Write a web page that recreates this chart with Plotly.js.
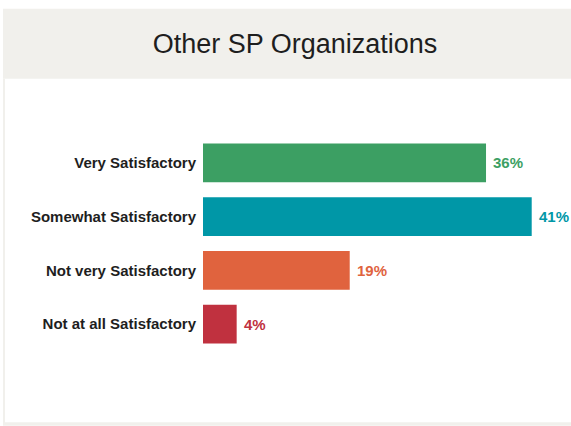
<!DOCTYPE html>
<html>
<head>
<meta charset="utf-8">
<script src="https://cdn.plot.ly/plotly-3.0.1.min.js"></script>
<style>html,body{margin:0;padding:0;background:#fff;}#chart{width:571px;height:426px;}</style>
</head>
<body>
<div id="chart"></div>
<script>
const categories = ["Very Satisfactory", "Somewhat Satisfactory", "Not very Satisfactory", "Not at all Satisfactory"];
const values = [35.3, 41.0, 18.3, 4.2];
const labels = ["36%", "41%", "19%", "4%"];
const colors = ["#3c9f63", "#0097a7", "#e0633e", "#c0313f"];
const titleText = "Other SP Organizations";

const W = 571, H = 426;
const L = 203, R = 0, T = 135.5, B = 75;
const pw = W - L - R, ph = H - T - B;
const px = p => (p - L) / pw;
const py = p => (H - B - p) / ph;

const trace = {
  type: "bar",
  orientation: "h",
  y: categories,
  x: values,
  marker: {color: colors},
  width: 0.72,
  hoverinfo: "none"
};

const annotations = categories.map((c, i) => ({
  x: values[i], y: c, xref: "x", yref: "y",
  text: labels[i], showarrow: false,
  xanchor: "left", yanchor: "middle", xshift: 5,
  font: {family: "Liberation Sans, Arial, sans-serif", size: 15, color: colors[i], weight: "bold"}
}));

const layout = {
  width: W, height: H,
  margin: {l: L, r: R, t: T, b: B, pad: 0},
  paper_bgcolor: "rgba(0,0,0,0)",
  plot_bgcolor: "rgba(0,0,0,0)",
  showlegend: false,
  title: {
    text: titleText,
    font: {family: "Liberation Sans, Arial, sans-serif", size: 27, color: "#1e1e1e"},
    x: 295 / W, xanchor: "center",
    y: 1 - 44 / H, yanchor: "middle"
  },
  xaxis: {range: [0, 45.9], visible: false, fixedrange: true},
  yaxis: {
    autorange: "reversed",
    showgrid: false, zeroline: false, showline: false,
    ticks: "outside", ticklen: 3, tickcolor: "rgba(0,0,0,0)",
    tickfont: {family: "Liberation Sans, Arial, sans-serif", size: 15, color: "#1e1e1e", weight: "bold"}
  },
  annotations: annotations,
  shapes: [
    {type: "rect", xref: "paper", yref: "paper", layer: "below",
     x0: px(3), x1: px(571), y0: py(78), y1: py(8),
     fillcolor: "#f1f0ec", line: {width: 0}},
    {type: "rect", xref: "paper", yref: "paper", layer: "below",
     x0: px(3), x1: px(5), y0: py(424), y1: py(78),
     fillcolor: "#f1f0ec", line: {width: 0}},
    {type: "rect", xref: "paper", yref: "paper", layer: "below",
     x0: px(3), x1: px(571), y0: py(426), y1: py(422.5),
     fillcolor: "#f1f0ec", line: {width: 0}}
  ]
};

Plotly.newPlot("chart", [trace], layout, {displayModeBar: false, staticPlot: true});
</script>
</body>
</html>
